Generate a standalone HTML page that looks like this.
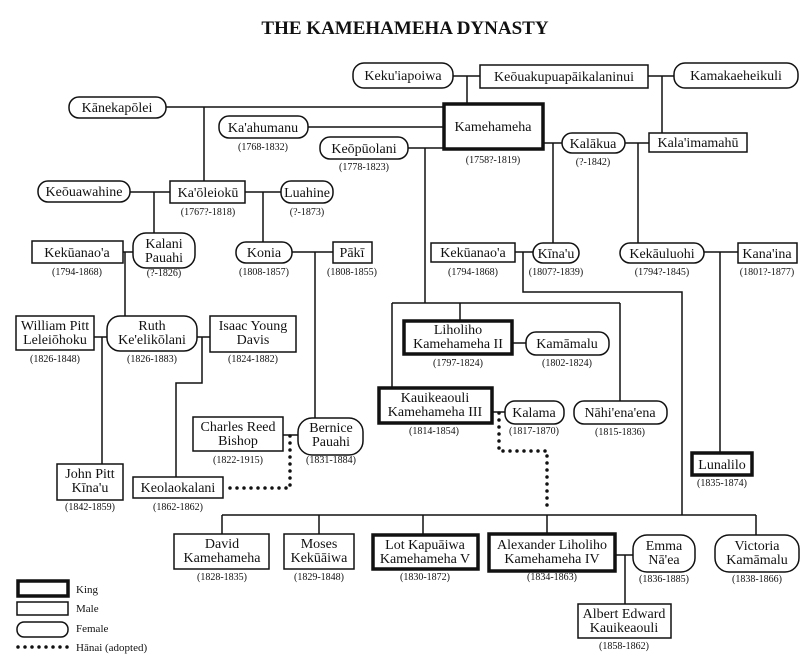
<!DOCTYPE html>
<html><head><meta charset="utf-8"><style>
html,body{margin:0;padding:0;background:#fff;}
svg{display:block;}
text{font-family:"Liberation Serif",serif;fill:#111;}
.n{font-size:14px;text-anchor:middle;}
.d{font-size:10px;text-anchor:middle;}
.l{font-size:11px;}
.m{fill:#fff;stroke:#111;stroke-width:1.5;}
.k{fill:#fff;stroke:#111;stroke-width:3.5;}
.ln{stroke:#111;stroke-width:1.5;fill:none;}
.dot{stroke:#111;stroke-width:3.5;fill:none;stroke-dasharray:0 7;stroke-linecap:round;}
</style></head><body>
<svg width="808" height="665" viewBox="0 0 808 665" xmlns="http://www.w3.org/2000/svg">
<text x="405" y="34" style="font-size:19px;font-weight:bold;text-anchor:middle;">THE KAMEHAMEHA DYNASTY</text>

<path class="ln" d="M453 76H480 M467 76V103 M648 76H674 M662 76V133"/>
<path class="ln" d="M166 107H443 M204 107V181 M308 127H443 M408 148H443 M425 148V303 M392 303H620 M392 303V387 M460 303V320 M620 303V401"/>
<path class="ln" d="M544 143H562 M553 143V243 M625 143H649 M638 143V243"/>
<path class="ln" d="M130 192H170 M154 192V233 M245 192H281 M263 192V242"/>
<path class="ln" d="M123 252H133 M125 252V316 M292 252H333 M315 252V418"/>
<path class="ln" d="M515 252H533 M523 252V292H682V515 M704 252H738 M720 252V452"/>
<path class="ln" d="M94 337H107 M102 337V464 M197 337H210 M202 337V383H176V477"/>
<path class="ln" d="M283 435H298 M513 343H526 M493 412H505"/>
<path class="ln" d="M222 515H756 M222 515V534 M319 515V534 M423 515V534 M547 515V533 M756 515V535"/>
<path class="ln" d="M616 555H633 M625 555V604"/>
<path class="dot" d="M290 436V488H228 M499 413V451H547V512"/>

<rect class="m" x="353" y="63" width="100" height="25" rx="11"/><text class="n" x="403" y="80">Keku'iapoiwa</text>
<rect class="m" x="480" y="65" width="168" height="23"/><text class="n" x="564" y="81">Keōuakupuapāikalaninui</text>
<rect class="m" x="674" y="63" width="124" height="25" rx="11"/><text class="n" x="736" y="80">Kamakaeheikuli</text>
<rect class="m" x="69" y="97" width="97" height="21" rx="10"/><text class="n" x="117" y="112">Kānekapōlei</text>
<rect class="k" x="444" y="104" width="99" height="45"/><text class="n" x="493" y="131">Kamehameha</text><text class="d" x="493" y="163">(1758?-1819)</text>
<rect class="m" x="219" y="116" width="89" height="22" rx="10"/><text class="n" x="263" y="132">Ka'ahumanu</text><text class="d" x="263" y="150">(1768-1832)</text>
<rect class="m" x="320" y="137" width="88" height="22" rx="10"/><text class="n" x="364" y="153">Keōpūolani</text><text class="d" x="364" y="170">(1778-1823)</text>
<rect class="m" x="562" y="133" width="63" height="20" rx="10"/><text class="n" x="593" y="148">Kalākua</text><text class="d" x="593" y="165">(?-1842)</text>
<rect class="m" x="649" y="133" width="98" height="19"/><text class="n" x="698" y="147">Kala'imamahū</text>

<rect class="m" x="38" y="181" width="92" height="21" rx="10"/><text class="n" x="84" y="196">Keōuawahine</text>
<rect class="m" x="170" y="181" width="75" height="22"/><text class="n" x="208" y="197">Ka'ōleiokū</text><text class="d" x="208" y="215">(1767?-1818)</text>
<rect class="m" x="281" y="181" width="52" height="22" rx="10"/><text class="n" x="307" y="197">Luahine</text><text class="d" x="307" y="215">(?-1873)</text>

<rect class="m" x="32" y="241" width="91" height="22"/><text class="n" x="77" y="257">Kekūanao'a</text><text class="d" x="77" y="275">(1794-1868)</text>
<rect class="m" x="133" y="233" width="62" height="35" rx="13"/><text class="n" x="164" y="248">Kalani</text><text class="n" x="164" y="262">Pauahi</text><text class="d" x="164" y="276">(?-1826)</text>
<rect class="m" x="236" y="242" width="56" height="21" rx="10"/><text class="n" x="264" y="257">Konia</text><text class="d" x="264" y="275">(1808-1857)</text>
<rect class="m" x="333" y="242" width="39" height="21"/><text class="n" x="352" y="257">Pākī</text><text class="d" x="352" y="275">(1808-1855)</text>
<rect class="m" x="431" y="243" width="84" height="19"/><text class="n" x="473" y="257">Kekūanao'a</text><text class="d" x="473" y="275">(1794-1868)</text>
<rect class="m" x="533" y="243" width="46" height="20" rx="10"/><text class="n" x="556" y="258">Kīna'u</text><text class="d" x="556" y="275">(1807?-1839)</text>
<rect class="m" x="620" y="243" width="84" height="20" rx="10"/><text class="n" x="662" y="258">Kekāuluohi</text><text class="d" x="662" y="275">(1794?-1845)</text>
<rect class="m" x="738" y="243" width="59" height="20"/><text class="n" x="767" y="258">Kana'ina</text><text class="d" x="767" y="275">(1801?-1877)</text>

<rect class="m" x="16" y="316" width="78" height="34"/><text class="n" x="55" y="330">William Pitt</text><text class="n" x="55" y="344">Leleiōhoku</text><text class="d" x="55" y="362">(1826-1848)</text>
<rect class="m" x="107" y="316" width="90" height="35" rx="13"/><text class="n" x="152" y="330">Ruth</text><text class="n" x="152" y="344">Ke'elikōlani</text><text class="d" x="152" y="362">(1826-1883)</text>
<rect class="m" x="210" y="316" width="86" height="36"/><text class="n" x="253" y="330">Isaac Young</text><text class="n" x="253" y="344">Davis</text><text class="d" x="253" y="362">(1824-1882)</text>
<rect class="k" x="404" y="321" width="108" height="33"/><text class="n" x="458" y="334">Liholiho</text><text class="n" x="458" y="348">Kamehameha II</text><text class="d" x="458" y="366">(1797-1824)</text>
<rect class="m" x="526" y="332" width="83" height="23" rx="10"/><text class="n" x="567" y="348">Kamāmalu</text><text class="d" x="567" y="366">(1802-1824)</text>

<rect class="k" x="379" y="388" width="113" height="35"/><text class="n" x="435" y="402">Kauikeaouli</text><text class="n" x="435" y="416">Kamehameha III</text><text class="d" x="434" y="434">(1814-1854)</text>
<rect class="m" x="505" y="401" width="59" height="23" rx="10"/><text class="n" x="534" y="417">Kalama</text><text class="d" x="534" y="434">(1817-1870)</text>
<rect class="m" x="574" y="401" width="93" height="23" rx="10"/><text class="n" x="620" y="417">Nāhi'ena'ena</text><text class="d" x="620" y="435">(1815-1836)</text>
<rect class="m" x="193" y="417" width="90" height="34"/><text class="n" x="238" y="431">Charles Reed</text><text class="n" x="238" y="445">Bishop</text><text class="d" x="238" y="463">(1822-1915)</text>
<rect class="m" x="298" y="418" width="65" height="37" rx="14"/><text class="n" x="331" y="432">Bernice</text><text class="n" x="331" y="446">Pauahi</text><text class="d" x="331" y="463">(1831-1884)</text>
<rect class="k" x="692" y="453" width="60" height="22"/><text class="n" x="722" y="469">Lunalilo</text><text class="d" x="722" y="486">(1835-1874)</text>
<rect class="m" x="57" y="464" width="66" height="36"/><text class="n" x="90" y="478">John Pitt</text><text class="n" x="90" y="492">Kīna'u</text><text class="d" x="90" y="510">(1842-1859)</text>
<rect class="m" x="133" y="477" width="90" height="21"/><text class="n" x="178" y="492">Keolaokalani</text><text class="d" x="178" y="510">(1862-1862)</text>

<rect class="m" x="174" y="534" width="95" height="35"/><text class="n" x="222" y="548">David</text><text class="n" x="222" y="562">Kamehameha</text><text class="d" x="222" y="580">(1828-1835)</text>
<rect class="m" x="284" y="534" width="70" height="35"/><text class="n" x="319" y="548">Moses</text><text class="n" x="319" y="562">Kekūāiwa</text><text class="d" x="319" y="580">(1829-1848)</text>
<rect class="k" x="373" y="535" width="105" height="34"/><text class="n" x="425" y="549">Lot Kapuāiwa</text><text class="n" x="425" y="563">Kamehameha V</text><text class="d" x="425" y="580">(1830-1872)</text>
<rect class="k" x="489" y="534" width="126" height="37"/><text class="n" x="552" y="549">Alexander Liholiho</text><text class="n" x="552" y="563">Kamehameha IV</text><text class="d" x="552" y="580">(1834-1863)</text>
<rect class="m" x="633" y="535" width="62" height="37" rx="14"/><text class="n" x="664" y="550">Emma</text><text class="n" x="664" y="564">Nā'ea</text><text class="d" x="664" y="582">(1836-1885)</text>
<rect class="m" x="715" y="535" width="84" height="37" rx="14"/><text class="n" x="757" y="550">Victoria</text><text class="n" x="757" y="564">Kamāmalu</text><text class="d" x="757" y="582">(1838-1866)</text>
<rect class="m" x="578" y="604" width="93" height="34"/><text class="n" x="624" y="618">Albert Edward</text><text class="n" x="624" y="632">Kauikeaouli</text><text class="d" x="624" y="649">(1858-1862)</text>

<rect class="k" x="18" y="581" width="50" height="15"/><text class="l" x="76" y="593">King</text>
<rect class="m" x="17" y="602" width="51" height="13"/><text class="l" x="76" y="612">Male</text>
<rect class="m" x="17" y="622" width="51" height="15" rx="7"/><text class="l" x="76" y="632">Female</text>
<path class="dot" d="M18 647H68"/><text class="l" x="76" y="651">Hānai (adopted)</text>
</svg>
</body></html>
